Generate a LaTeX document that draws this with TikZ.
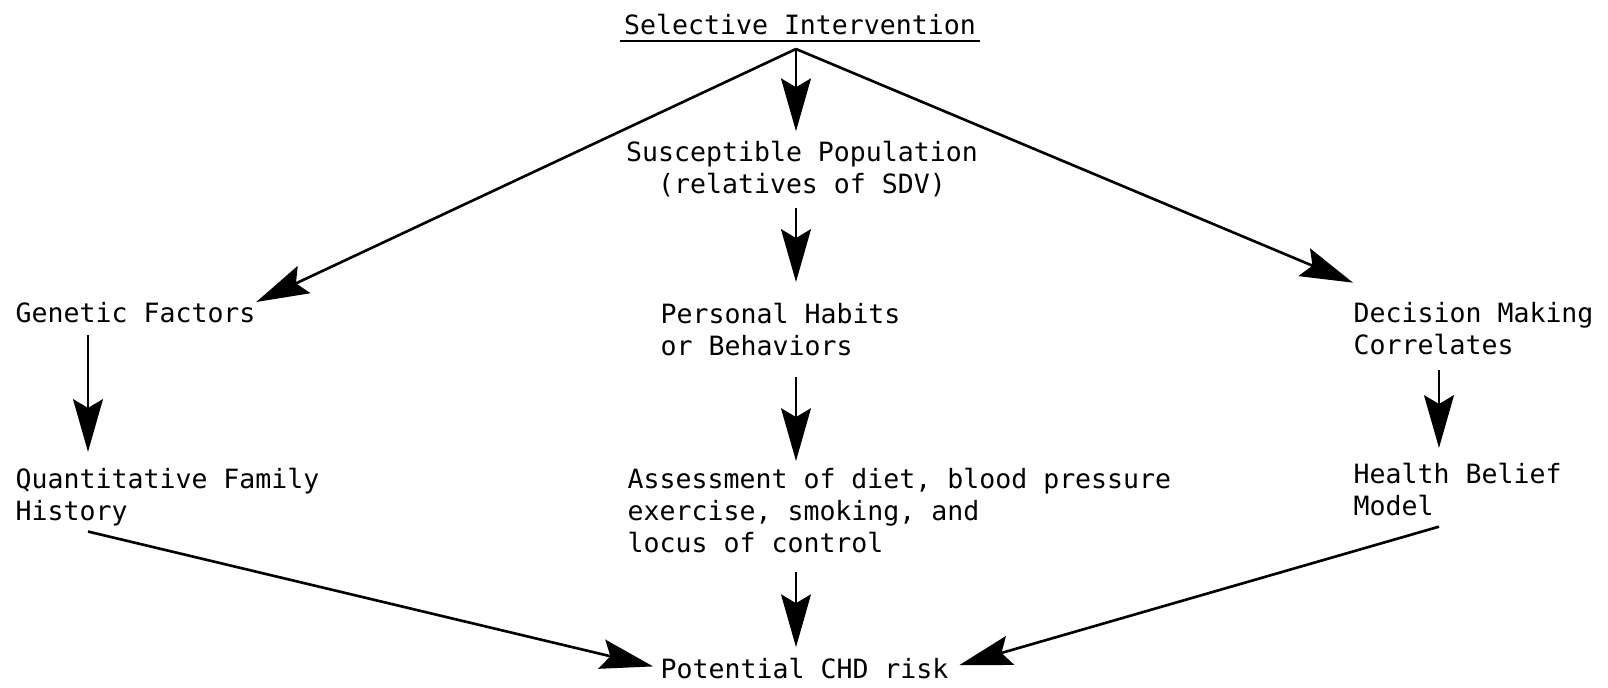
\documentclass[tikz,border=0pt]{standalone}
\usepackage{fontspec}
\setmainfont{DejaVu Sans Mono}
\usetikzlibrary{arrows.meta}

\begin{document}
\begin{tikzpicture}[x=0.01cm, y=-0.01cm,
    txt/.style={font=\fontsize{7.55}{9.1}\selectfont, inner sep=0pt, align=left, anchor=north west},
    arr/.style={line width=0.75pt, -{Stealth[length=15pt, width=8.5pt, inset=2.5pt]}}]

% Fix the page to the size of the figure
\useasboundingbox (0,0) rectangle (1608,687);

% Title, underlined
\node[txt, anchor=north] (title) at (800,13) {Selective Intervention};
\draw[line width=0.75pt] ([xshift=-1pt, yshift=-2pt]title.base west) -- ([xshift=1pt, yshift=-2pt]title.base east);

% Columns the vertical arrows run along
\coordinate (apex) at (796,49);
\coordinate (gcol) at (88,0);
\coordinate (dcol) at (1439,0);

% Middle column
\node[txt, anchor=north, align=center] (susc) at (802,140) {Susceptible Population\\(relatives of SDV)};
\node[txt] (habits) at (660,302) {Personal Habits\\or Behaviors};
\node[txt] (assess) at (627,467) {Assessment of diet, blood pressure\\exercise, smoking, and\\locus of control};
\node[txt] (risk) at (660,657) {Potential CHD risk};

% Left column
\node[txt] (genetic) at (15,302) {Genetic Factors};
\node[txt] (quant) at (15,467) {Quantitative Family\\History};

% Right column
\node[txt] (decision) at (1353,302) {Decision Making\\Correlates};
\node[txt] (health) at (1353,462) {Health Belief\\Model};

% Arrows from the title
\draw[arr] (apex) -- (genetic.north east);
\draw[arr, shorten >=2.5pt] (apex) -- (apex |- susc.north);
\draw[arr] (apex) -- ([yshift=5.5pt]decision.north west);

% Vertical arrows
\draw[arr, shorten <=3pt, shorten >=5.7pt] (susc.south -| apex) -- (habits.north -| apex);
\draw[arr, shorten <=6pt, shorten >=1.7pt] (habits.south -| apex) -- (assess.north -| apex);
\draw[arr, shorten <=5.4pt, shorten >=2.8pt] (assess.south -| apex) -- (risk.north -| apex);
\draw[arr, shorten <=3pt, shorten >=4.3pt] (genetic.south -| gcol) -- (quant.north -| gcol);
\draw[arr, shorten <=4pt, shorten >=4pt] (decision.south -| dcol) -- (health.north -| dcol);

% Arrows into the risk
\draw[arr, shorten >=2pt] ([yshift=-1.5pt]quant.south -| gcol) -- (risk.west);
\draw[arr, shorten >=3pt] ([yshift=-3pt]health.south -| dcol) -- (risk.east);

\end{tikzpicture}
\end{document}
